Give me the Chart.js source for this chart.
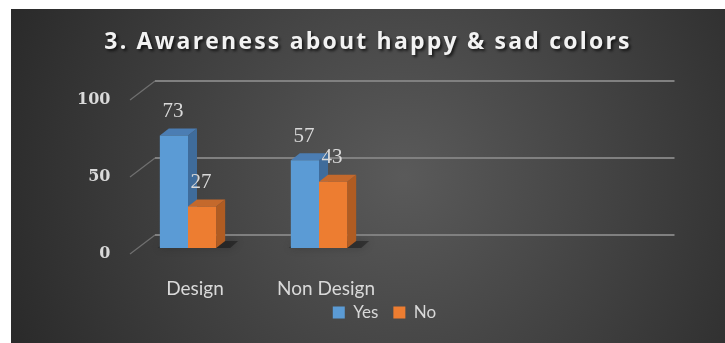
<!DOCTYPE html>
<html>
<head>
<meta charset="utf-8">
<script src="https://cdn.jsdelivr.net/npm/chart.js@4.4.1/dist/chart.umd.min.js"></script>
<style>
  html, body { margin: 0; padding: 0; background: #fff; }
  #wrap { position: absolute; left: 11px; top: 9px; width: 714px; height: 334px; }
</style>
</head>
<body>
<div id="wrap"><canvas id="awarenessChart"></canvas></div>
<script>
const chartTitle = "3. Awareness about happy & sad colors";
const categories = ["Design", "Non Design"];
const yesValues = [73, 57];
const noValues = [27, 43];
const emptySlots = 2; // excel leaves room on the right for more groups

// fake 3d: depth of the wall/floor and of each bar
const DEPTH_X = 25, DEPTH_Y = 19, FRONT_Y = 6;
const BAR_DX = 9, BAR_DY = 7;
const TEXT = "#d9d9d9";

const faceColors = [
    { side: "#3f6c9b", top: "#4b7db3" },
    { side: "#b05c22", top: "#c4692c" }
];

const backdrop = {
    id: "backdrop",
    beforeDraw(chart) {
        const { ctx, width, height } = chart;
        const g = ctx.createRadialGradient(width * 0.55, height * 0.5, 0, width * 0.55, height * 0.5, width * 0.62);
        g.addColorStop(0, "#5a5a5a");
        g.addColorStop(1, "#282828");
        ctx.save();
        ctx.fillStyle = g;
        ctx.fillRect(0, 0, width, height);

        // title, drawn by hand for the letter spacing
        ctx.font = "bold 23px 'Open Sans'";
        ctx.letterSpacing = "2.2px";
        ctx.textAlign = "center";
        ctx.textBaseline = "middle";
        ctx.shadowColor = "rgba(0,0,0,0.7)";
        ctx.shadowOffsetX = 2;
        ctx.shadowOffsetY = 2;
        ctx.shadowBlur = 3;
        ctx.fillStyle = "#f2f2f2";
        ctx.fillText(chartTitle, width / 2, 33);
        ctx.restore();
    },
    afterDraw(chart) {
        // category labels sit on the front edge of the floor
        const { ctx, chartArea } = chart;
        const x = chart.scales.x;
        ctx.save();
        ctx.font = "19px Lato";
        ctx.fillStyle = TEXT;
        ctx.textAlign = "center";
        ctx.textBaseline = "middle";
        categories.forEach((c, i) => {
            ctx.fillText(c, x.getPixelForTick(i) + 7, chartArea.bottom + 41);
        });
        ctx.restore();
    }
};

const bars3d = {
    id: "bars3d",
    beforeDatasetsDraw(chart) {
        const { ctx, chartArea } = chart;
        const y = chart.scales.y;
        ctx.save();

        // back wall gridlines + diagonal floor edges
        const x0 = chartArea.left + 7.5;
        y.ticks.forEach(t => {
            const py = y.getPixelForValue(t.value);
            ctx.strokeStyle = "#707070";
            ctx.lineWidth = 1.2;
            ctx.beginPath();
            ctx.moveTo(x0, py + FRONT_Y);
            ctx.lineTo(x0 + DEPTH_X, py + FRONT_Y - DEPTH_Y);
            ctx.stroke();
            ctx.strokeStyle = "#808080";
            ctx.lineWidth = 2.2;
            ctx.beginPath();
            ctx.moveTo(x0 + DEPTH_X, py + FRONT_Y - DEPTH_Y);
            ctx.lineTo(chartArea.right + 28, py + FRONT_Y - DEPTH_Y);
            ctx.stroke();
        });

        // floor shadow under each group
        const first = chart.getDatasetMeta(0).data;
        const last = chart.getDatasetMeta(chart.data.datasets.length - 1).data;
        first.forEach((b, i) => {
            const l = b.x - b.width / 2;
            const r = last[i].x + last[i].width / 2;
            const base = b.base;
            ctx.save();
            ctx.fillStyle = "rgba(0,0,0,0.35)";
            ctx.shadowColor = "rgba(0,0,0,0.6)";
            ctx.shadowBlur = 8;
            ctx.beginPath();
            ctx.moveTo(l - 2, base);
            ctx.lineTo(r + 14, base);
            ctx.lineTo(r + 22, base - 7);
            ctx.lineTo(l + 6, base - 7);
            ctx.closePath();
            ctx.fill();
            ctx.restore();
        });

        // side and top faces, front faces are drawn by chart.js afterwards
        chart.data.datasets.forEach((ds, di) => {
            chart.getDatasetMeta(di).data.forEach(b => {
                const l = b.x - b.width / 2, r = b.x + b.width / 2;
                ctx.fillStyle = faceColors[di].side;
                ctx.beginPath();
                ctx.moveTo(r, b.base);
                ctx.lineTo(r + BAR_DX, b.base - BAR_DY);
                ctx.lineTo(r + BAR_DX, b.y - BAR_DY);
                ctx.lineTo(r, b.y);
                ctx.closePath();
                ctx.fill();
                ctx.fillStyle = faceColors[di].top;
                ctx.beginPath();
                ctx.moveTo(l, b.y);
                ctx.lineTo(l + BAR_DX, b.y - BAR_DY);
                ctx.lineTo(r + BAR_DX, b.y - BAR_DY);
                ctx.lineTo(r, b.y);
                ctx.closePath();
                ctx.fill();
            });
        });
        ctx.restore();
    },
    afterDatasetsDraw(chart) {
        const { ctx } = chart;
        ctx.save();
        ctx.font = "21px 'Liberation Serif'";
        ctx.fillStyle = TEXT;
        ctx.textAlign = "center";
        ctx.textBaseline = "middle";
        chart.data.datasets.forEach((ds, di) => {
            chart.getDatasetMeta(di).data.forEach((b, i) => {
                ctx.fillText(ds.data[i], b.x - 1, b.y - 24);
            });
        });
        ctx.restore();
    }
};

new Chart(document.getElementById("awarenessChart"), {
    type: "bar",
    data: {
        labels: categories.concat(Array(emptySlots).fill("")),
        datasets: [
            { label: "Yes", data: yesValues, backgroundColor: "#5b9bd5", borderWidth: 0 },
            { label: "No", data: noValues, backgroundColor: "#ed7d31", borderWidth: 0 }
        ]
    },
    options: {
        responsive: true,
        maintainAspectRatio: false,
        animation: false,
        categoryPercentage: 0.43,
        barPercentage: 1,
        layout: { padding: { top: 85, left: 51.5, right: 78.5, bottom: 12 } },
        plugins: {
            title: { display: false },
            tooltip: { enabled: false },
            legend: {
                position: "bottom",
                fullSize: false,
                labels: {
                    boxWidth: 12,
                    boxHeight: 12,
                    padding: 15,
                    color: TEXT,
                    font: { family: "Lato", size: 17 }
                }
            }
        },
        scales: {
            x: {
                grid: { display: false, drawTicks: false },
                border: { display: false },
                ticks: { display: false },
                afterFit: s => { s.height = 41; }
            },
            y: {
                min: 0,
                max: 100,
                grid: { display: false, drawTicks: false },
                border: { display: false },
                ticks: {
                    stepSize: 50,
                    color: TEXT,
                    font: { family: "DejaVu Serif", size: 16, weight: "bold" },
                    padding: 12,
                    labelOffset: 6
                },
                afterFit: s => { s.width = 60; }
            }
        }
    },
    plugins: [backdrop, bars3d]
});
</script>
</body>
</html>
